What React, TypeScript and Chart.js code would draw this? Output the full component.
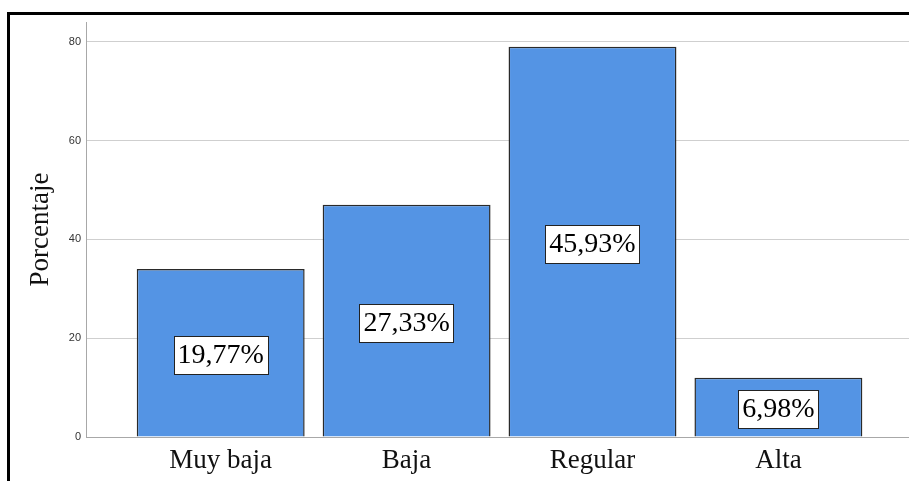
import React, { useEffect, useRef } from "react";
import { Chart, registerables } from "chart.js";

Chart.register(...registerables);

const categories = ["Muy baja", "Baja", "Regular", "Alta"];
const counts = [34, 47, 79, 12];
const percentLabels = ["19,77%", "27,33%", "45,93%", "6,98%"];
const yTicks = [0, 20, 40, 60, 80];

const SERIF = "'Liberation Serif', 'Times New Roman', serif";

const boxLabels = {
  id: "boxLabels",
  afterDatasetsDraw(chart: any) {
    const ctx = chart.ctx;
    const meta = chart.getDatasetMeta(0);
    ctx.save();
    ctx.font = `28px ${SERIF}`;
    ctx.textAlign = "center";
    ctx.textBaseline = "middle";
    meta.data.forEach((bar: any, i: number) => {
      const text = percentLabels[i];
      const cx = bar.x;
      const cy = (bar.y + bar.base) / 2 + 2;
      const w = ctx.measureText(text).width + 8;
      const h = 38;
      const x0 = Math.round(cx - w / 2) + 0.5;
      const y0 = Math.round(cy - h / 2) + 0.5;
      ctx.fillStyle = "#ffffff";
      ctx.fillRect(x0, y0, Math.round(w), h);
      ctx.strokeStyle = "#222222";
      ctx.lineWidth = 1;
      ctx.strokeRect(x0, y0, Math.round(w), h);
      ctx.fillStyle = "#000000";
      ctx.fillText(text, cx, cy + 1);
    });
    ctx.restore();
  },
};

export default function App() {
  const ref = useRef<HTMLCanvasElement | null>(null);

  useEffect(() => {
    if (!ref.current) return;
    const unit = 185.9;
    const center0 = 220.7;
    const left = 86;
    const right = 909;
    const xMin = (left - center0) / unit;
    const xMax = (right - center0) / unit;

    const chart = new Chart(ref.current, {
      type: "bar",
      data: {
        datasets: [
          {
            data: counts.map((v, i) => ({ x: i, y: v })),
            backgroundColor: "rgb(84,148,228)",
            borderColor: "#2a2a2a",
            borderWidth: 1.5,
            barPercentage: 168 / 186,
            categoryPercentage: 1,
          },
        ],
      },
      options: {
        animation: false,
        responsive: false,
        layout: { padding: { top: 22, right: 0, bottom: 0, left: 0 } },
        plugins: {
          legend: { display: false },
          tooltip: { enabled: false },
          title: { display: false },
        },
        scales: {
          x: {
            type: "linear",
            offset: false,
            min: xMin,
            max: xMax,
            afterBuildTicks: (scale: any) => {
              scale.ticks = categories.map((_, i) => ({ value: i }));
            },
            afterFit: (scale: any) => {
              scale.height = 44;
            },
            grid: { display: true, offset: false, drawOnChartArea: false, drawTicks: false },
            border: { display: true, color: "#a8a8a8", width: 1 },
            ticks: {
              autoSkip: false,
              maxRotation: 0,
              padding: 8,
              color: "#111111",
              font: { family: SERIF, size: 27 },
              callback: (v: any) => categories[Math.round(Number(v))] ?? "",
            },
          },
          y: {
            type: "linear",
            min: 0,
            max: 84,
            afterBuildTicks: (scale: any) => {
              scale.ticks = yTicks.map((v) => ({ value: v }));
            },
            afterFit: (scale: any) => {
              scale.width = 86;
            },
            grid: { color: "#cfcfcf", lineWidth: 1, drawTicks: false },
            border: { display: true, color: "#a8a8a8", width: 1 },
            ticks: {
              padding: 5,
              color: "#333333",
              font: { family: "'Liberation Sans', Arial, sans-serif", size: 11 },
            },
            title: {
              display: true,
              text: "Porcentaje",
              color: "#111111",
              font: { family: SERIF, size: 27 },
              padding: { top: 25, bottom: 0 },
            },
          },
        },
      },
      plugins: [boxLabels],
    });
    return () => chart.destroy();
  }, []);

  return (
    <div
      style={{
        position: "fixed",
        left: 0,
        top: 0,
        width: 909,
        height: 481,
        overflow: "hidden",
        background: "#ffffff",
      }}
    >
      <div
        style={{
          position: "absolute",
          left: 7,
          top: 12,
          width: 1100,
          height: 1100,
          border: "3px solid #000000",
          boxSizing: "border-box",
        }}
      />
      <canvas
        ref={ref}
        width={909}
        height={481}
        style={{ position: "absolute", left: 0, top: 0, width: 909, height: 481 }}
      />
    </div>
  );
}
